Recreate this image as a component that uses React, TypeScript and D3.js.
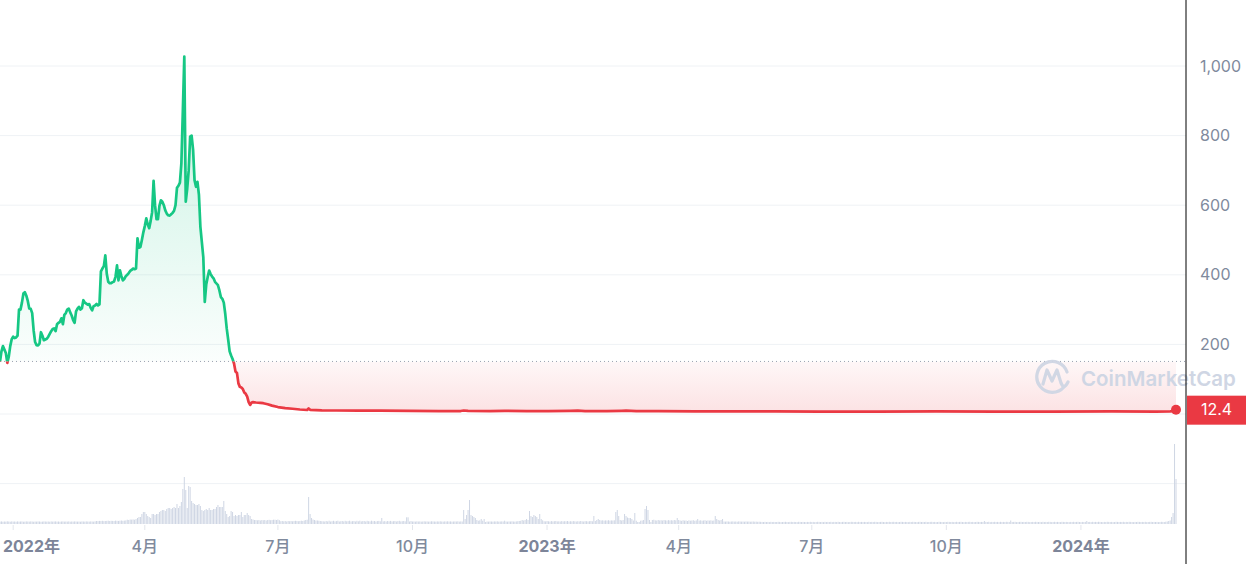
import React from 'react';
import * as d3 from 'd3';

// ---- data ----
const START = new Date(Date.UTC(2021, 11, 23));
const LAST_DAY = 804;

// [day offset from START, price]
const priceSeries: [number, number][] = [
  [0, 151], [1, 180], [2, 195], [3, 185], [4, 175], [5, 147], [6, 165], [7, 195], [8, 215], [9, 222],
  [10, 218], [11, 220], [12, 225], [13, 300], [14, 300], [15, 320], [16, 346], [17, 350], [18, 340], [19, 325],
  [20, 303], [21, 302], [22, 290], [23, 240], [24, 207], [25, 198], [26, 197], [27, 202], [28, 235], [29, 225],
  [30, 212], [31, 214], [32, 216], [33, 222], [34, 230], [35, 238], [36, 244], [37, 246], [38, 238], [39, 258],
  [40, 262], [41, 265], [42, 275], [43, 258], [44, 285], [45, 290], [46, 300], [47, 303], [48, 292], [49, 283],
  [50, 270], [51, 262], [52, 295], [53, 303], [54, 308], [55, 300], [56, 304], [57, 327], [58, 320], [59, 317],
  [60, 314], [61, 316], [62, 305], [63, 298], [64, 310], [65, 312], [66, 316], [67, 312], [68, 315], [69, 410],
  [70, 418], [71, 425], [72, 456], [73, 403], [74, 380], [75, 376], [76, 376], [77, 379], [78, 381], [79, 395],
  [80, 427], [81, 384], [82, 413], [83, 396], [84, 384], [85, 388], [86, 396], [87, 400], [88, 405], [89, 411],
  [90, 414], [91, 418], [92, 416], [93, 418], [94, 505], [95, 478], [96, 480], [97, 500], [98, 522], [99, 540],
  [100, 562], [101, 545], [102, 534], [103, 555], [104, 580], [105, 670], [106, 600], [107, 560], [108, 560], [109, 598],
  [110, 614], [111, 610], [112, 600], [113, 585], [114, 576], [115, 571], [116, 570], [117, 574], [118, 578], [119, 584],
  [120, 600], [121, 650], [122, 656], [123, 665], [124, 720], [125, 870], [126, 1027], [127, 610], [128, 648], [129, 700],
  [130, 797], [131, 800], [132, 760], [133, 672], [134, 653], [135, 667], [136, 630], [137, 538], [138, 494], [139, 450],
  [140, 322], [141, 372], [142, 394], [143, 412], [144, 402], [145, 395], [146, 390], [147, 380], [148, 375], [149, 370],
  [150, 355], [151, 336], [152, 331], [153, 320], [154, 288], [155, 246], [156, 214], [157, 180], [158, 168], [159, 158],
  [160, 145], [161, 122], [162, 118], [163, 88], [164, 78], [165, 76], [166, 72], [167, 62], [168, 58], [169, 50],
  [170, 34], [171, 26], [172, 33], [173, 34], [175, 33], [178, 32], [180, 31], [183, 28], [186, 24], [190, 20],
  [195, 17], [200, 15], [205, 13], [210, 11.5], [211, 16], [212, 12], [220, 10.5], [230, 10], [245, 9.5], [260, 9.5],
  [280, 9], [300, 8.5], [315, 8.5], [317, 10], [320, 9], [335, 8.5], [345, 9], [360, 8.5], [375, 8], [390, 9],
  [395, 9.5], [400, 8.5], [415, 8], [425, 9], [428, 9.5], [435, 8.5], [450, 8], [475, 7.5], [500, 7.5], [530, 7.5],
  [560, 7], [600, 7], [640, 7.5], [680, 7], [720, 7], [760, 7.5], [790, 7], [800, 7.5], [802, 8], [803, 10],
  [804, 12.4],
];

// daily volume, day 0 .. 804 (relative units)
const volumeValues: number[] = [
  // 0-65
  2.4, 2.6, 2.3, 2.5, 2.4, 2.7, 2.5, 2.3, 2.6, 2.4,
  2.5, 2.3, 2.6, 2.4, 2.5, 2.6, 2.3, 2.4, 2.6, 2.5,
  2.4, 2.6, 2.5, 2.3, 2.5, 2.4, 2.6, 2.5, 2.3, 2.4,
  2.6, 2.5, 2.4, 2.5, 2.3, 2.6, 2.4, 2.5, 2.6, 2.4,
  2.5, 2.3, 2.5, 2.6, 2.4, 2.5, 2.4, 2.6, 2.3, 2.5,
  2.4, 2.6, 2.5, 2.4, 2.5, 2.3, 2.6, 2.5, 2.4, 2.6,
  2.5, 2.4, 2.6, 2.5, 2.4, 2.7,
  // 66-86
  3, 2.9, 3.1, 3, 3.2, 2.9, 3, 3.1, 3.3, 3, 3.2, 3.1, 3, 3.4, 3.2, 3.1, 3.3, 3.5, 3.2, 3.4, 3.6,
  // 87-93
  4.3, 4, 4.5, 4.4, 4.6, 4.3, 5,
  // 94-174
  6, 7, 7, 10, 12, 12, 10, 8, 7, 6,
  10, 10, 9, 10, 10, 12, 13, 14, 14, 13,
  15, 16, 16, 15, 16, 17, 16, 20, 16, 18,
  22, 35, 47, 34, 16, 38, 37, 23, 21, 20,
  19, 19, 20, 18, 14, 13, 14, 15, 14, 16,
  14, 14, 15, 15, 17, 19, 17, 17, 17, 23,
  13, 10, 7, 8, 13, 12, 8, 9, 8, 9,
  9, 12, 7, 9, 9, 11, 9, 8, 5, 4.5,
  4,
  // 175-191
  4, 3.7, 4, 3.5, 4, 3.8, 4, 3.5, 4, 4.2, 3.8, 4, 4.3, 4.3, 4, 4.5, 3.8,
  // 192-207
  2.8, 3, 2.7, 3, 2.5, 3, 2.8, 3, 2.7, 3, 3.2, 3, 2.8, 3, 3.3, 3,
  // 208-220
  3.5, 4, 4.3, 27, 10, 6, 4.5, 4, 3.5, 3.5, 3.3, 3, 2.8,
  // 221-260
  2.7, 2.5, 3, 2.6, 3.3, 2.5, 2.8, 3.2, 2.6, 2.9,
  3.3, 2.5, 2.8, 3, 2.6, 3.2, 2.7, 2.9, 3.3, 2.6,
  2.8, 3, 2.5, 3.2, 2.7, 3.3, 2.6, 2.9, 3, 2.5,
  3.2, 2.8, 2.6, 3.3, 2.7, 3, 2.5, 2.9, 3.1, 2.7,
  // 261
  6,
  // 262-277
  2.6, 2.9, 2.5, 3, 2.7, 3.1, 2.6, 2.8, 3, 2.5, 2.9, 3.2, 2.6, 2.8, 3, 2.7,
  // 278-281
  6.7, 6.7, 2.5, 3,
  // 282-316
  2.5, 2.6, 2.4, 2.7, 2.5, 2.6, 2.4, 2.5, 2.7, 2.5,
  2.6, 2.4, 2.5, 2.7, 2.6, 2.5, 2.4, 2.6, 2.5, 2.7,
  2.5, 2.4, 2.6, 2.5, 2.7, 2.5, 2.6, 2.4, 2.5, 2.6,
  2.5, 2.7, 2.4, 2.6, 2.5,
  // 317-332
  14, 5, 9, 14, 24, 9, 8, 7, 6, 4, 3.3, 3.7, 5, 3.3, 5, 2,
  // 333-356
  2.5, 2.4, 2.6, 2.5, 2.4, 2.6, 2.5, 2.7, 2.4, 2.5, 2.6, 2.5, 3.3, 2.5, 2.4, 2.6, 2.5, 2.7, 2.5, 2.4, 2.6, 2.8, 3, 3.2,
  // 357-371
  4, 3.5, 4, 5, 4, 13, 8, 7, 9, 8, 7, 5, 10, 5, 3.7,
  // 372-405
  2.8, 2.6, 3, 2.7, 2.5, 2.9, 2.6, 2.8, 3, 2.6,
  2.7, 2.5, 2.9, 2.6, 2.8, 2.7, 3, 2.5, 2.8, 2.6,
  2.9, 2.7, 2.5, 2.8, 2.6, 3, 2.7, 2.5, 2.9, 2.8,
  2.6, 2.8, 3, 2.7,
  // 406-410
  8, 3, 4, 5, 4,
  // 411-420
  3.5, 3.7, 3.4, 3.6, 3.5, 3.8, 3.4, 3.6, 3.5, 3.7,
  // 421-447
  12, 14, 8, 4, 3.5, 4, 10, 8, 6.5, 6, 6, 5, 3.5, 11, 3.3, 2, 2, 3.3, 3.5, 4, 15, 18, 14, 4, 2, 4, 4.3,
  // 448-462
  3.7, 3.5, 4, 3.6, 3.8, 3.5, 4, 3.7, 3.5, 3.9, 3.6, 3.8, 3.5, 4, 3.7,
  // 463-464
  6, 4,
  // 465-488
  3.5, 3.2, 3.8, 3.4, 3.6, 3, 3.7, 3.3, 3.5, 3.8, 3.2, 3.6, 5, 3.4, 3.7, 3.3, 3.5, 3.8, 3.2, 3.6, 3.4, 3.7, 3.3, 3.5,
  // 489-494
  8, 5, 4, 3.5, 4, 5,
  // 495-520
  2.5, 2.4, 2.6, 2.5, 2.3, 2.5, 2.6, 2.4, 2.5, 2.3,
  2.6, 2.5, 2.4, 2.5, 2.3, 2.6, 2.4, 2.5, 2.3, 2.4,
  2.5, 2.3, 2.4, 2.2, 2.3, 2.2,
  // 521-799
  2.1, 2, 2.2, 2, 2.1, 1.9, 2.2, 2, 2.1, 2,
  2, 2.2, 2.1, 1.9, 2, 2.1, 2.2, 2, 1.9, 2.1,
  2.2, 2, 2.1, 2, 1.9, 2.2, 2.1, 2, 2.1, 2,
  1.9, 2.1, 2, 2.2, 2, 2.1, 1.9, 2, 2.2, 2.1,
  2, 2.1, 1.9, 2.2, 2, 2.1, 2, 2.2, 1.9, 2.1,
  2.1, 2, 2.2, 2, 1.9, 2.1, 2.2, 2, 2.1, 1.9,
  2, 2.2, 2.1, 2, 2.1, 1.9, 2.2, 2, 2.1, 2,
  2.1, 2, 1.9, 2.2, 2, 2.1, 2, 2.2, 2.1, 1.9,
  2, 2.1, 2.2, 2, 1.9, 2.1, 2, 2.2, 2, 2.1,
  2.2, 2, 2.1, 1.9, 2, 2.2, 2.1, 2, 2.1, 2,
  1.9, 2.1, 2, 2.2, 2.1, 2, 1.9, 2.1, 2.2, 2,
  2.1, 2, 2.2, 1.9, 2, 2.1, 2.2, 2, 2.1, 1.9,
  2, 2.2, 2.1, 2, 1.9, 2.1, 2, 2.2, 2.1, 2,
  2.1, 1.9, 2, 2.2, 2, 2.1, 2.2, 2, 1.9, 2.1,
  2, 2.1, 2.2, 2, 2.1, 1.9, 2, 2.2, 2.1, 2,
  2.1, 2, 3, 2.1, 2, 2.2, 1.9, 2.1, 2, 2.2,
  2, 2.1, 1.9, 2.2, 2, 2.1, 2, 2.2, 2.1, 2,
  3.5, 2, 2.1, 2.2, 1.9, 2, 2.1, 2.2, 2, 2.1,
  2, 2.2, 2.1, 1.9, 2, 2.1, 2, 2.2, 2.1, 2,
  2.1, 1.9, 2.2, 2, 2.1, 2, 2.2, 2.1, 1.9, 2,
  2.2, 2, 2.1, 2, 1.9, 2.2, 2.1, 2, 2.1, 2,
  1.9, 2.1, 2, 2.2, 2, 2.1, 2.2, 2, 1.9, 2.1,
  2, 2.1, 3, 2, 2.1, 1.9, 2.2, 2, 2.1, 2,
  2.2, 2.1, 2, 1.9, 2.1, 2, 2.2, 2.1, 2, 2.1,
  1.9, 2, 2.2, 2.1, 2, 2.1, 2, 2.2, 1.9, 2.1,
  2, 2.2, 2.1, 2, 1.9, 2.1, 2, 2.2, 2.1, 2,
  2.1, 2, 2.2, 1.9, 2, 2.1, 2.2, 2, 2.1, 2,
  2.1, 1.9, 2, 2.2, 2.1, 2, 2.3, 2.5, 3,
  // 800-804
  3.5, 7, 11, 80, 45,
];

const yTickValues = [1000, 800, 600, 400, 200];
const gridValues = [1000, 800, 600, 400, 200, 0, -200];
const lastPriceLabel = '12.4';
const watermarkText = 'CoinMarketCap';

// ---- colours ----
const GREEN = '#16c784';
const RED = '#ea3943';
const GRID = '#eff2f5';
const LABEL = '#808a9d';
const VOL = '#cfd6e4';

export default function App() {
  const W = 1255;
  const H = 564;
  const axisX = 1186;
  const plotRight = 1176;

  const x = d3
    .scaleUtc()
    .domain([START, d3.utcDay.offset(START, LAST_DAY)])
    .range([0, plotRight]);
  const y = d3.scaleLinear().domain([0, 1000]).range([414, 66]);
  const yv = d3.scaleLinear().domain([0, 80]).range([524, 444]);

  const baseY = y(priceSeries[0][1]);
  const pts: [number, number][] = priceSeries.map(([d, v]) => [
    x(d3.utcDay.offset(START, d)),
    y(v),
  ]);
  const linePath = d3.line()(pts) || '';
  const areaPath =
    d3
      .area<[number, number]>()
      .x((p) => p[0])
      .y0(baseY)
      .y1((p) => p[1])(pts) || '';

  const last = pts[pts.length - 1];
  const ticks = x.ticks(d3.utcMonth.every(3) as any);
  const font = "Inter, 'Noto Sans CJK SC', 'Noto Sans', sans-serif";

  return (
    <svg
      width={W}
      height={H}
      viewBox={`0 0 ${W} ${H}`}
      style={{ position: 'fixed', left: 0, top: 0, background: '#fff' }}
    >
      <defs>
        <clipPath id="above">
          <rect x={0} y={0} width={axisX} height={baseY} />
        </clipPath>
        <clipPath id="below">
          <rect x={0} y={baseY} width={axisX} height={H - baseY} />
        </clipPath>
        <linearGradient id="gGreen" gradientUnits="userSpaceOnUse" x1={0} y1={y(1000)} x2={0} y2={baseY}>
          <stop offset="0%" stopColor={GREEN} stopOpacity={0.24} />
          <stop offset="100%" stopColor={GREEN} stopOpacity={0.02} />
        </linearGradient>
        <linearGradient id="gRed" gradientUnits="userSpaceOnUse" x1={0} y1={baseY} x2={0} y2={y(0)}>
          <stop offset="0%" stopColor={RED} stopOpacity={0.04} />
          <stop offset="100%" stopColor={RED} stopOpacity={0.15} />
        </linearGradient>
      </defs>

      {/* grid */}
      {gridValues.map((v) => (
        <line key={v} x1={0} x2={axisX} y1={y(v)} y2={y(v)} stroke={GRID} strokeWidth={1} />
      ))}

      {/* volume */}
      {volumeValues.map((v, i) => {
        const cx = x(d3.utcDay.offset(START, i));
        return (
          <rect key={i} x={cx - 0.5} y={yv(v)} width={1} height={yv(0) - yv(v)} fill={VOL} />
        );
      })}

      {/* areas */}
      <path d={areaPath} fill="url(#gGreen)" clipPath="url(#above)" />
      <path d={areaPath} fill="url(#gRed)" clipPath="url(#below)" />

      {/* baseline */}
      <line x1={0} x2={axisX} y1={baseY} y2={baseY} stroke="#9aa2b1" strokeWidth={1} strokeDasharray="1 3" />

      {/* price line */}
      <path d={linePath} fill="none" stroke={GREEN} strokeWidth={2.7} strokeLinejoin="round" clipPath="url(#above)" />
      <path d={linePath} fill="none" stroke={RED} strokeWidth={2.7} strokeLinejoin="round" clipPath="url(#below)" />

      {/* watermark */}
      <g fill="none" stroke={VOL} strokeWidth={3.2} strokeLinecap="round" strokeLinejoin="round" opacity={0.95}>
        <path d="M 1064 387 A 15.5 15.5 0 1 1 1067 372" />
        <path d="M 1043 384 L 1047 370 L 1052 381 L 1057 370 L 1061 383 Q 1064 390 1068 382" />
      </g>
      <text x={1081} y={386} fontFamily={font} fontSize={20.5} fontWeight={600} fill={VOL}>
        {watermarkText}
      </text>

      {/* last point */}
      <circle cx={last[0]} cy={last[1]} r={5} fill={RED} />

      {/* right axis */}
      <line x1={axisX} x2={axisX} y1={0} y2={H} stroke="#000" strokeWidth={1} />
      {yTickValues.map((v) => (
        <text key={v} x={1200} y={y(v)} dy="0.35em" fontFamily={font} fontSize={16} fill={LABEL}>
          {d3.format(',')(v)}
        </text>
      ))}
      <rect x={axisX + 1} y={last[1] - 14} width={59} height={29} fill={RED} />
      <text x={axisX + 30.5} y={last[1]} dy="0.36em" textAnchor="middle" fontFamily={font} fontSize={16} fill="#fff">
        {lastPriceLabel}
      </text>

      {/* x axis */}
      {ticks.map((t) => {
        const tx = x(t);
        const isYear = t.getUTCMonth() === 0;
        const label = isYear ? `${t.getUTCFullYear()}年` : `${t.getUTCMonth() + 1}月`;
        const clamp = tx < 32;
        return (
          <g key={t.toISOString()}>
            <line x1={tx} x2={tx} y1={525} y2={530} stroke="#e3e6ec" strokeWidth={1} />
            <text
              x={clamp ? 3 : tx}
              y={552}
              textAnchor={clamp ? 'start' : 'middle'}
              fontFamily={font}
              fontSize={16}
              fontWeight={isYear ? 700 : 500}
              fill={isYear ? '#7d8599' : LABEL}
            >
              {label}
            </text>
          </g>
        );
      })}
    </svg>
  );
}
